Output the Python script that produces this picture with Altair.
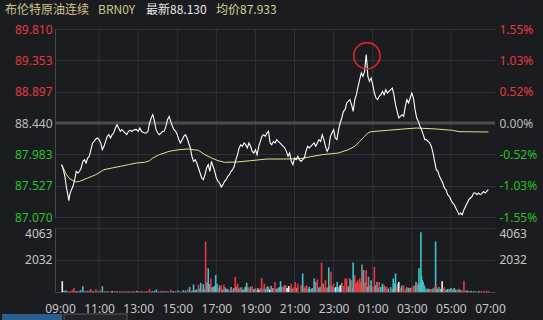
import altair as alt
import pandas as pd

# ---------------- data ----------------
HEADER = ["布伦特原油连续", "BRN0Y", "最新88.130", "均价87.933"]

PRICE_TICKS = [87.070, 87.527, 87.983, 88.440, 88.897, 89.353, 89.810]
PCT_LABELS = ["-1.55%", "-1.03%", "-0.52%", "0.00%", "0.52%", "1.03%", "1.55%"]
VOL_TICKS = [2032, 4063]
X_TICKS = [0, 120, 240, 360, 480, 600, 720, 840, 960, 1080, 1200, 1320]
X_LABELS = ["09:00", "11:00", "13:00", "15:00", "17:00", "19:00", "21:00",
            "23:00", "01:00", "03:00", "05:00", "07:00"]
BASE_PRICE = 88.440

# minutes after 09:00
PRICE_MIN = [
    5, 10, 15, 20, 25, 27, 30, 35, 40, 45, 50, 55, 60, 65, 70, 75, 80, 85, 90, 95,
    100, 105, 110, 115, 120, 125, 130, 135, 140, 145, 150, 155, 160, 165, 170, 175,
    180, 185, 190, 195, 200, 205, 210, 215, 220, 225, 230, 235, 240, 245, 250, 255,
    260, 265, 270, 275, 280, 285, 290, 295, 300, 305, 310, 315, 320, 325, 330, 335,
    340, 345, 350, 355, 360, 365, 370, 375, 380, 385, 390, 395, 400, 405, 410, 415,
    420, 425, 430, 435, 440, 445, 450, 455, 460, 465, 470, 475, 480, 485, 490, 495,
    500, 505, 510, 515, 520, 525, 530, 535, 540, 545, 550, 555, 560, 565, 570, 575,
    580, 585, 590, 595, 600, 605, 610, 615, 620, 625, 630, 635, 640, 645, 650, 655,
    660, 665, 670, 675, 680, 685, 690, 695, 700, 705, 710, 715, 720, 725, 730, 735,
    740, 745, 750, 755, 760, 765, 770, 775, 780, 785, 790, 795, 800, 805, 810, 815,
    820, 825, 830, 835, 840, 845, 850, 855, 860, 865, 870, 875, 880, 885, 890, 895,
    900, 905, 910, 915, 920, 925, 930, 935, 940, 943, 945, 950, 955, 960, 965, 970,
    975, 980, 985, 990, 995, 1000, 1005, 1010, 1015, 1020, 1025, 1030, 1035, 1040,
    1045, 1050, 1055, 1060, 1065, 1070, 1075, 1080, 1085, 1090, 1095, 1100, 1105,
    1110, 1115, 1120, 1125, 1130, 1135, 1140, 1145, 1150, 1155, 1160, 1165, 1170,
    1175, 1180, 1185, 1190, 1195, 1200, 1205, 1210, 1215, 1220, 1225, 1230, 1235,
    1240, 1245, 1250, 1255, 1260, 1265, 1270, 1275, 1280, 1285, 1290, 1295, 1300,
    1305, 1310, 1315]
PRICE = [
    87.833, 87.760, 87.663, 87.493, 87.371, 87.308, 87.396, 87.468, 87.517, 87.614,
    87.736, 87.711, 87.736, 87.784, 87.881, 87.906, 87.857, 87.930, 87.954, 88.051,
    88.149, 88.173, 88.207, 88.221, 88.197, 88.149, 88.051, 88.100, 88.173, 88.246,
    88.270, 88.221, 88.270, 88.294, 88.367, 88.416, 88.367, 88.319, 88.343, 88.319,
    88.294, 88.270, 88.319, 88.333, 88.319, 88.333, 88.343, 88.343, 88.319, 88.367,
    88.319, 88.304, 88.294, 88.294, 88.319, 88.440, 88.513, 88.562, 88.464, 88.343,
    88.294, 88.270, 88.294, 88.319, 88.319, 88.391, 88.489, 88.537, 88.464, 88.391,
    88.343, 88.319, 88.270, 88.197, 88.149, 88.197, 88.246, 88.270, 88.221, 88.149,
    88.076, 87.954, 87.881, 87.906, 87.857, 87.784, 87.711, 87.638, 87.614, 87.687,
    87.784, 87.833, 87.736, 87.881, 87.808, 87.736, 87.638, 87.590, 87.566, 87.507,
    87.541, 87.590, 87.614, 87.663, 87.687, 87.736, 87.760, 87.808, 87.906, 87.978,
    88.076, 88.124, 88.100, 88.149, 88.124, 88.076, 88.149, 88.100, 88.027, 88.003,
    88.051, 87.978, 88.100, 88.173, 88.246, 88.270, 88.246, 88.294, 88.319, 88.149,
    88.124, 88.173, 88.149, 88.197, 88.173, 88.149, 88.124, 88.100, 88.076, 88.027,
    87.954, 88.003, 87.881, 87.833, 87.930, 87.906, 87.954, 87.906,
    87.881, 87.906, 87.930, 88.027, 88.100, 88.076, 88.100, 88.124, 88.149, 88.100,
    88.149, 88.197, 88.173, 88.270, 88.197, 88.100, 88.027, 88.076, 88.246, 88.294,
    88.343, 88.221, 88.197, 88.343, 88.440, 88.513, 88.610, 88.634, 88.731, 88.756,
    88.780, 88.707, 88.610, 88.780, 88.853, 88.974, 89.072, 89.169, 89.120, 89.193,
    89.436, 89.266, 89.120, 89.047, 89.096, 88.999, 88.877, 88.804, 88.780, 88.829,
    88.853, 88.902, 88.853, 88.926, 88.877, 88.902, 88.926, 88.950, 88.853, 88.707,
    88.610, 88.513, 88.537, 88.561, 88.537, 88.683, 88.780, 88.731, 88.804, 88.877,
    88.804, 88.634, 88.513, 88.464, 88.391, 88.343, 88.270, 88.197, 88.197, 88.173,
    88.149, 88.100, 88.003, 87.881, 87.760, 87.736, 87.663, 87.614, 87.566, 87.493,
    87.468, 87.396, 87.371, 87.323, 87.274, 87.250, 87.201, 87.153, 87.104, 87.128,
    87.104, 87.177, 87.225, 87.274, 87.323, 87.347, 87.371, 87.420, 87.420, 87.396,
    87.420, 87.396, 87.410, 87.444, 87.420, 87.444, 87.468]

AVG_MIN = [5, 10, 20, 30, 45, 50, 60, 85, 110, 135, 160, 185, 210, 235, 260, 275,
           285, 305, 335, 365, 395, 410, 425, 445, 465, 485, 505, 545, 585, 635,
           685, 735, 805, 855, 885, 905, 920, 935, 945, 955, 1005, 1055, 1095,
           1155, 1205, 1225, 1315]
AVG = [87.833, 87.784, 87.687, 87.624, 87.590, 87.580, 87.590, 87.638, 87.687,
       87.760, 87.784, 87.808, 87.833, 87.857, 87.867, 87.891, 87.930, 87.978,
       88.027, 88.051, 88.061, 88.051, 88.042, 87.978, 87.930, 87.891, 87.867,
       87.872, 87.891, 87.915, 87.915, 87.920, 87.978, 88.003, 88.051, 88.100,
       88.173, 88.246, 88.294, 88.314, 88.333, 88.353, 88.367, 88.353, 88.333,
       88.314, 88.309]

# red marker around the session high
MARK_MIN = [942]
MARK_PRICE = [89.42]

# volume bars: minute, volume, colour class (r=up, c=down, g=flat, w=white)
VOL_MIN = [
    7, 12, 18, 25, 32, 38, 43, 50, 57, 63,
    70, 77, 84, 90, 95, 102, 110, 117, 124, 130,
    137, 145, 152, 160, 168, 175, 183, 190, 198, 205,
    212, 220, 228, 236, 244, 252, 260, 268, 275, 283,
    290, 296, 303, 310, 318, 325, 332, 340, 347, 354,
    362, 370, 378, 385, 392, 398, 405, 410, 415, 420,
    425, 430, 432, 437, 440, 444, 447, 451, 455, 459,
    463, 467, 470, 474, 478, 482, 486, 490, 495, 499,
    503, 507, 511, 515, 520, 525, 530, 534, 538, 542,
    545, 549, 553, 557, 561, 565, 569, 573, 577, 581,
    585, 590, 595, 599, 603, 607, 611, 615, 619, 623,
    627, 631, 636, 640, 644, 648, 652, 656, 660, 665,
    669, 673, 677, 681, 685, 689, 693, 697, 702, 706,
    710, 714, 718, 722, 726, 730, 740, 745, 750, 753,
    757, 762, 765, 771, 775, 780, 785, 790, 795, 799,
    803, 808, 812, 815, 820, 825, 829, 832, 836, 840,
    844, 847, 851, 855, 860, 865, 870, 875, 880, 885,
    890, 893, 897, 900, 903, 905, 908, 911, 914, 917,
    920, 923, 927, 930, 932, 935, 938, 940, 944, 947,
    951, 955, 960, 965, 968, 973, 977, 980, 985, 990,
    995, 999, 1003, 1008, 1015, 1020, 1023, 1027, 1030, 1034,
    1037, 1040, 1044, 1049, 1055, 1060, 1065, 1070, 1075, 1080,
    1085, 1090, 1093, 1097, 1099, 1102, 1105, 1108, 1110, 1112,
    1115, 1118, 1120, 1125, 1130, 1135, 1140, 1145, 1150, 1153,
    1155, 1158, 1163, 1168, 1173, 1177, 1180, 1185, 1190, 1195,
    1200, 1205, 1210, 1215, 1220, 1225, 1230, 1235, 1240, 1245,
    1250, 1255, 1262, 1270, 1278, 1286, 1294, 1302, 1310, 1316]
VOL = [
    685, 80, 110, 60, 60, 110, 250, 60, 70, 120,
    360, 80, 70, 100, 190, 60, 170, 50, 100, 360,
    60, 50, 40, 40, 60, 40, 50, 40, 50, 40,
    60, 40, 70, 40, 60, 40, 50, 70, 200, 60,
    80, 150, 50, 80, 60, 70, 70, 150, 60, 60,
    90, 60, 110, 100, 170, 320, 80, 480, 120, 160,
    470, 230, 580, 130, 490, 200, 3200, 640, 1500, 500,
    850, 300, 320, 380, 1070, 530, 240, 420, 420, 150,
    470, 300, 200, 200, 130, 320, 170, 250, 960, 330,
    530, 200, 280, 300, 130, 200, 330, 590, 300, 200,
    330, 360, 180, 230, 150, 250, 150, 260, 900, 200,
    530, 200, 350, 330, 150, 400, 250, 250, 640, 200,
    250, 310, 690, 330, 300, 430, 430, 250, 380, 250,
    520, 200, 300, 640, 260, 530, 430, 1180, 240, 360,
    430, 200, 320, 200, 250, 860, 640, 790, 280, 330,
    1860, 530, 280, 750, 280, 1560, 400, 1280, 350, 530,
    250, 320, 640, 300, 430, 580, 380, 850, 860, 350,
    850, 750, 300, 1880, 400, 1070, 530, 640, 750, 530,
    860, 640, 1750, 420, 1390, 530, 640, 1390, 320, 960,
    420, 750, 320, 1600, 420, 640, 280, 640, 320, 530,
    420, 350, 320, 220, 320, 200, 860, 560, 1180, 320,
    530, 640, 250, 400, 420, 200, 300, 260, 250, 300,
    420, 400, 640, 530, 420, 1500, 560, 3790, 1000, 750,
    640, 450, 300, 200, 220, 180, 200, 220, 300, 3210,
    420, 200, 320, 200, 690, 220, 300, 150, 200, 180,
    260, 160, 250, 150, 150, 180, 120, 100, 710, 80,
    90, 60, 80, 60, 50, 60, 70, 60, 80, 60]
VOL_DIR = [
    "w", "c", "c", "r", "r", "r", "r", "c", "r", "c",
    "c", "r", "g", "r", "r", "c", "r", "g", "r", "c",
    "r", "c", "r", "w", "r", "g", "r", "c", "r", "g",
    "r", "c", "r", "w", "r", "c", "r", "r", "r", "g",
    "c", "c", "r", "r", "c", "r", "r", "r", "c", "r",
    "c", "r", "c", "c", "r", "c", "c", "c", "g", "c",
    "r", "c", "c", "r", "c", "g", "r", "g", "c", "g",
    "r", "c", "g", "c", "c", "c", "r", "g", "r", "c",
    "r", "g", "c", "g", "r", "c", "r", "c", "r", "g",
    "r", "c", "r", "g", "c", "g", "c", "c", "g", "r",
    "g", "r", "c", "g", "r", "c", "w", "r", "r", "g",
    "r", "c", "c", "g", "w", "g", "c", "r", "r", "c",
    "g", "c", "c", "g", "r", "g", "r", "w", "w", "g",
    "r", "g", "r", "r", "g", "r", "r", "c", "g", "r",
    "r", "g", "c", "c", "g", "c", "g", "r", "c", "g",
    "r", "g", "r", "r", "g", "c", "g", "r", "g", "r",
    "c", "w", "c", "c", "w", "g", "r", "r", "r", "c",
    "g", "g", "r", "c", "g", "r", "r", "r", "r", "r",
    "r", "r", "g", "r", "g", "r", "g", "r", "c", "g",
    "r", "c", "r", "r", "g", "g", "c", "r", "c", "c",
    "g", "r", "r", "c", "g", "g", "c", "c", "c", "r",
    "g", "w", "r", "c", "r", "r", "g", "c", "g", "r",
    "r", "g", "c", "r", "g", "c", "c", "c", "c", "c",
    "c", "g", "c", "g", "c", "g", "r", "c", "r", "c",
    "r", "c", "g", "c", "w", "r", "r", "c", "c", "g",
    "c", "g", "c", "g", "r", "c", "g", "r", "r", "g",
    "c", "r", "c", "c", "r", "c", "r", "r", "r", "r"]

# ---------------- styles ----------------
BG = "#1b1c20"
GRID = "#303237"
BORDER = "#45474c"
RED = "#e8383c"
GREEN = "#27c227"
NEUTRAL = "#b9bdc5"
AXIS_TXT = "#c6c6c6"
FONT = "Noto Sans"

W, H = 440, 263
PRICE_RANGE = [188, 0]
VOL_RANGE = [263, 199]

price_df = pd.DataFrame({"minute": PRICE_MIN, "price": PRICE})
avg_df = pd.DataFrame({"minute": AVG_MIN, "avg": AVG})
vol_df = pd.DataFrame({"minute": VOL_MIN, "vol": VOL, "dir": VOL_DIR})
tick_df = pd.DataFrame({"v": PRICE_TICKS})
vtick_df = pd.DataFrame({"v": VOL_TICKS})
grid_df = pd.DataFrame({"minute": X_TICKS[1:-1]})
zero_df = pd.DataFrame({"v": [BASE_PRICE]})
mark_df = pd.DataFrame({"minute": MARK_MIN, "price": MARK_PRICE})

xscale = alt.Scale(domain=[X_TICKS[0], X_TICKS[-1]], nice=False, zero=False)
pscale = alt.Scale(domain=[PRICE_TICKS[0], PRICE_TICKS[-1]], range=PRICE_RANGE,
                   nice=False, zero=False)
vscale = alt.Scale(domain=[0, VOL_TICKS[-1]], range=VOL_RANGE, nice=False)

price_color = {
    "condition": [
        {"test": f"datum.value > {BASE_PRICE + 0.05}", "value": RED},
        {"test": f"datum.value > {BASE_PRICE - 0.05}", "value": NEUTRAL},
    ],
    "value": GREEN,
}
pct_expr = ("[" + ",".join(f"'{s}'" for s in PCT_LABELS) + "][indexof(["
            + ",".join(str(v) for v in PRICE_TICKS) + "], datum.value)]")
x_expr = ("[" + ",".join(f"'{s}'" for s in X_LABELS) + "][indexof(["
          + ",".join(str(v) for v in X_TICKS) + "], datum.value)]")

x_axis = alt.Axis(orient="bottom", values=X_TICKS, labelExpr=x_expr, grid=False,
                  ticks=False, domain=True, domainColor=BORDER,
                  labelColor=AXIS_TXT, labelFont=FONT, labelFontSize=12,
                  labelPadding=11, labelFlush=False, title=None)
# same axis definition in every layer, so the shared x axis merges cleanly
X = alt.X("minute:Q", scale=xscale, axis=x_axis)

vgrid = alt.Chart(grid_df).mark_rule(color=GRID, strokeWidth=1).encode(
    x=X, y=alt.value(0), y2=alt.value(H))

zero = alt.Chart(zero_df).mark_rule(color="#4b4d52", strokeWidth=3).encode(
    y=alt.Y("v:Q", scale=pscale, axis=None))

price_left = alt.Chart(tick_df).mark_rule(opacity=0).encode(
    y=alt.Y("v:Q", scale=pscale, axis=alt.Axis(
        orient="left", values=PRICE_TICKS, format=".3f", grid=True,
        gridColor=GRID, ticks=False, domain=True, domainColor=BORDER,
        labelColor=price_color, labelFont=FONT, labelFontSize=12,
        labelPadding=3, title=None)))

price_right = alt.Chart(tick_df).mark_rule(opacity=0).encode(
    y=alt.Y("v:Q", scale=pscale, axis=alt.Axis(
        orient="right", values=PRICE_TICKS, labelExpr=pct_expr, grid=False,
        ticks=False, domain=False, labelColor=price_color, labelFont=FONT,
        labelFontSize=12, labelPadding=4, title=None)))

vol_left = alt.Chart(vtick_df).mark_rule(opacity=0).encode(
    y=alt.Y("v:Q", scale=vscale, axis=alt.Axis(
        orient="left", values=VOL_TICKS, format="d", grid=True, gridColor=GRID,
        ticks=False, domain=True, domainColor=BORDER, labelColor=AXIS_TXT,
        labelFont=FONT, labelFontSize=12, labelPadding=3, labelFlush=True,
        title=None)))

vol_right = alt.Chart(vtick_df).mark_rule(opacity=0).encode(
    y=alt.Y("v:Q", scale=vscale, axis=alt.Axis(
        orient="right", values=VOL_TICKS, format="d", grid=False, ticks=False,
        domain=False, labelColor=AXIS_TXT, labelFont=FONT, labelFontSize=12,
        labelPadding=4, labelFlush=True, title=None)))

bars = alt.Chart(vol_df).mark_bar(width=1.6).encode(
    x=X,
    y=alt.Y("vol:Q", scale=vscale, axis=None),
    color=alt.Color("dir:N", scale=alt.Scale(
        domain=["r", "c", "g", "w"],
        range=["#e8383d", "#3cc4cc", "#8d8d8f", "#f2f2f2"]), legend=None))

avg_line = alt.Chart(avg_df).mark_line(color="#e4e08c", strokeWidth=1).encode(
    x=X, y=alt.Y("avg:Q", scale=pscale, axis=None))

price_line = alt.Chart(price_df).mark_line(color="#ffffff", strokeWidth=1.1).encode(
    x=X, y=alt.Y("price:Q", scale=pscale, axis=None))

marker = alt.Chart(mark_df).mark_point(
    shape="circle", size=690, filled=False, stroke="#e0232b", strokeWidth=1.6,
    opacity=1).encode(x=X, y=alt.Y("price:Q", scale=pscale, axis=None))

header_x = [-50, 43, 91, 161]
header_colors = ["#cfc68c", "#cfc68c", "#e6e6e6", "#d9d18d"]
header_layers = []
for txt, hx, hc in zip(HEADER, header_x, header_colors):
    header_layers.append(
        alt.Chart(pd.DataFrame({"t": [txt]})).mark_text(
            align="left", baseline="middle", font="Noto Sans CJK SC",
            fontSize=12, color=hc).encode(
            text="t:N", x=alt.value(hx), y=alt.value(-19)))

tab1 = alt.Chart(pd.DataFrame({"a": [0]})).mark_rect(color="#2c5d8f").encode(
    x=alt.value(-53), x2=alt.value(7), y=alt.value(285), y2=alt.value(292))
tab2 = alt.Chart(pd.DataFrame({"a": [0]})).mark_rect(
    color="#222428", stroke="#56595e", strokeWidth=1).encode(
    x=alt.value(9), x2=alt.value(72), y=alt.value(285), y2=alt.value(293))

chart = alt.layer(
    vgrid, zero, price_left, price_right, vol_left, vol_right, bars, avg_line,
    price_line, marker, *header_layers, tab1, tab2
).resolve_scale(y="independent").properties(
    width=W, height=H, background=BG,
    autosize=alt.AutoSizeParams(type="none"),
    padding={"left": 55, "top": 29, "right": 48, "bottom": 28},
).configure_view(stroke=None)

chart.save("out.html", embed_options={"renderer": "svg", "actions": False})
